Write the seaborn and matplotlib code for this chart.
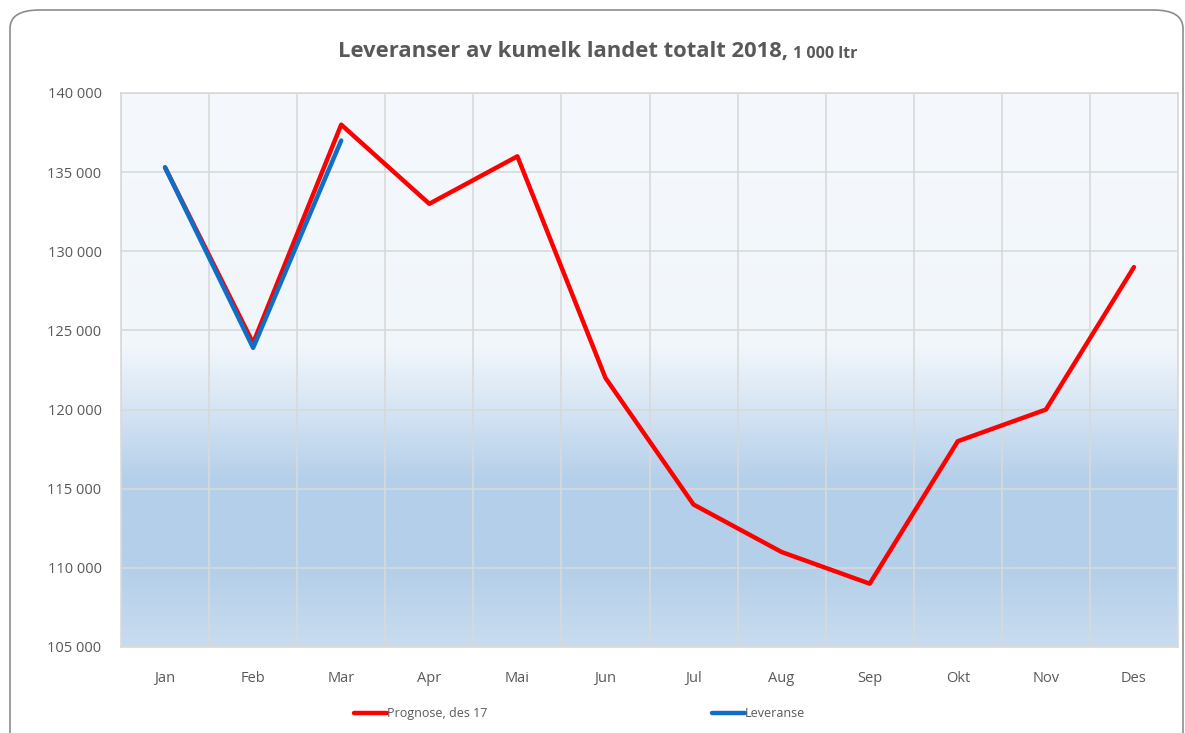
import numpy as np
import pandas as pd
import matplotlib
matplotlib.use("Agg")
import matplotlib.pyplot as plt
from matplotlib.patches import FancyBboxPatch
from matplotlib.colors import LinearSegmentedColormap
from matplotlib.ticker import FuncFormatter, MultipleLocator
import seaborn as sns

# === Data ===
months = ["Jan", "Feb", "Mar", "Apr", "Mai", "Jun", "Jul", "Aug", "Sep", "Okt", "Nov", "Des"]
prognose = [135300, 124200, 138000, 133000, 136000, 122000, 114000, 111000, 109000, 118000, 120000, 129000]
leveranse_months = ["Jan", "Feb", "Mar"]
leveranse = [135300, 123900, 137000]

df = pd.concat([
    pd.DataFrame({"mnd": months, "verdi": prognose, "serie": "Prognose, des 17"}),
    pd.DataFrame({"mnd": leveranse_months, "verdi": leveranse, "serie": "Leveranse"}),
], ignore_index=True)
df["pos"] = df["mnd"].map({m: i for i, m in enumerate(months)})

sns.set_style("white")
plt.rcParams['font.family'] = ['Open Sans', 'DejaVu Sans']

fig = plt.figure(figsize=(11.85, 7.33), dpi=100)
ax = fig.add_axes([121 / 1185, 86 / 733, 1057 / 1185, 554 / 733])

# rounded frame round the whole chart
frame = FancyBboxPatch((10 / 1185, -20 / 733), 1173 / 1185, 743 / 733,
                       boxstyle="round,pad=0,rounding_size=0.025",
                       transform=fig.transFigure, fill=False,
                       edgecolor="#8c8c8c", linewidth=1.2, zorder=0)
fig.patches.append(frame)

# gradient background of the plot area
cmap = LinearSegmentedColormap.from_list("bg", [
    (0.0, "#c9dcef"), (0.14, "#b4cfe9"), (0.30, "#b4cfe9"),
    (0.42, "#d3e3f3"), (0.54, "#f1f6fb"), (1.0, "#f5f9fd")])
grad = np.linspace(0, 1, 256).reshape(-1, 1)
ax.imshow(grad, cmap=cmap, aspect="auto", origin="lower",
          extent=[0, 1, 0, 1], transform=ax.transAxes, zorder=0)

palette = {"Prognose, des 17": "#ff0000", "Leveranse": "#0f6fc6"}
sns.lineplot(data=df, x="pos", y="verdi", hue="serie", palette=palette,
             linewidth=3.2, ax=ax, sort=False, zorder=3, legend=True)

ax.set_xlim(-0.5, 11.5)
ax.set_ylim(105000, 140000)
ax.set_xticks(range(len(months)))
ax.set_xticklabels(months)
ax.set_xticks(np.arange(-0.5, 12, 1.0), minor=True)
ax.yaxis.set_major_locator(MultipleLocator(5000))
ax.yaxis.set_major_formatter(FuncFormatter(lambda v, p: f"{int(v):,}".replace(",", " ")))
ax.grid(True, which="major", axis="y", color="#d9d9d9", linewidth=1.2, zorder=1)
ax.grid(True, which="minor", axis="x", color="#d9d9d9", linewidth=1.2, zorder=1)
ax.set_axisbelow(False)
for s in ax.spines.values():
    s.set_color("#d9d9d9")
    s.set_linewidth(1.2)
ax.tick_params(axis="both", which="both", length=0, labelsize=10.5, labelcolor="#595959")
ax.tick_params(axis="x", pad=17)
ax.tick_params(axis="y", pad=14)
ax.set_xlabel("")
ax.set_ylabel("")

leg = ax.legend(loc="upper center", bbox_to_anchor=(0.434, -0.088), ncol=2, frameon=False,
                fontsize=9, handlelength=2.6, handletextpad=0.0, columnspacing=18)
for t in leg.get_texts():
    t.set_color("#595959")
for h in leg.get_lines():
    h.set_linewidth(3.2)

fig.text(788 / 1185, 1 - 52 / 733, "Leveranser av kumelk landet totalt 2018,",
         ha="right", va="center", fontsize=15.8, fontweight="bold", color="#595959")
fig.text(793 / 1185, 1 - 54 / 733, "1 000 ltr",
         ha="left", va="center", fontsize=11.5, fontweight="bold", color="#595959")

fig.savefig("out.png", dpi=100)
